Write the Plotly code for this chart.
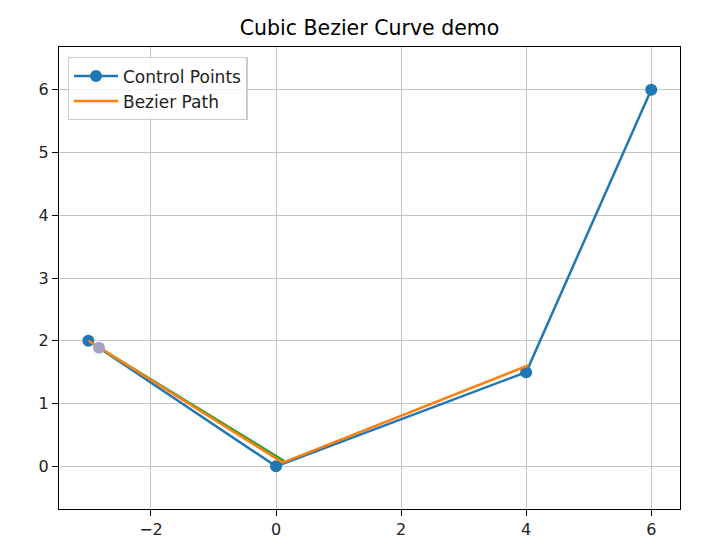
import plotly.graph_objects as go

ctrl_x = [-3, 0, 4, 6]
ctrl_y = [2, 0, 1.5, 6]
path_x = [-3, 0.11, 4.04]
path_y = [2, 0.06, 1.61]
green_x = [-2.83, 0.13]
green_y = [1.89, 0.085]
grey_x = [-2.83]
grey_y = [1.89]

fig = go.Figure()
fig.add_trace(go.Scatter(x=ctrl_x, y=ctrl_y, mode="lines+markers", name="Control Points",
                         line=dict(color="#1f77b4", width=2.5), marker=dict(size=12, color="#1f77b4")))
fig.add_trace(go.Scatter(x=green_x, y=green_y, mode="lines", showlegend=False,
                         line=dict(color="#2ca02c", width=2.5)))
fig.add_trace(go.Scatter(x=path_x, y=path_y, mode="lines", name="Bezier Path",
                         line=dict(color="#ff7f0e", width=2.5)))
fig.add_trace(go.Scatter(x=grey_x, y=grey_y, mode="markers", showlegend=False,
                         marker=dict(size=12, color="#a3a3c4")))

axis_common = dict(showgrid=True, gridcolor="#c4c4c4", gridwidth=1.3, zeroline=False,
                   showline=True, linecolor="black", linewidth=1.3, mirror=True,
                   ticks="outside", ticklen=6, tickwidth=1.3, tickcolor="black",
                   tickfont=dict(family="DejaVu Sans", size=16, color="#222222"))
fig.update_layout(
    width=712, height=552,
    paper_bgcolor="white", plot_bgcolor="white",
    margin=dict(l=51, r=40, t=39, b=51),
    title=dict(text="Cubic Bezier Curve demo", x=0.5, xref="paper", xanchor="center",
               y=1 - 20 / 552, yref="container", yanchor="middle",
               font=dict(family="DejaVu Sans", size=20.5, color="black")),
    xaxis=dict(range=[-3.47, 6.46], tickvals=[-2, 0, 2, 4, 6], ticktext=["\u22122", "0", "2", "4", "6"], **axis_common),
    yaxis=dict(range=[-0.68, 6.68], tickvals=[0, 1, 2, 3, 4, 5, 6], **axis_common),
    legend=dict(x=0.014, y=0.978, xanchor="left", yanchor="top", bgcolor="rgba(255,255,255,0.8)",
                bordercolor="#cccccc", borderwidth=1.3, itemwidth=44,
                font=dict(family="DejaVu Sans", size=17, color="#222222")),
    showlegend=True,
)
fig.write_html("out.html")
